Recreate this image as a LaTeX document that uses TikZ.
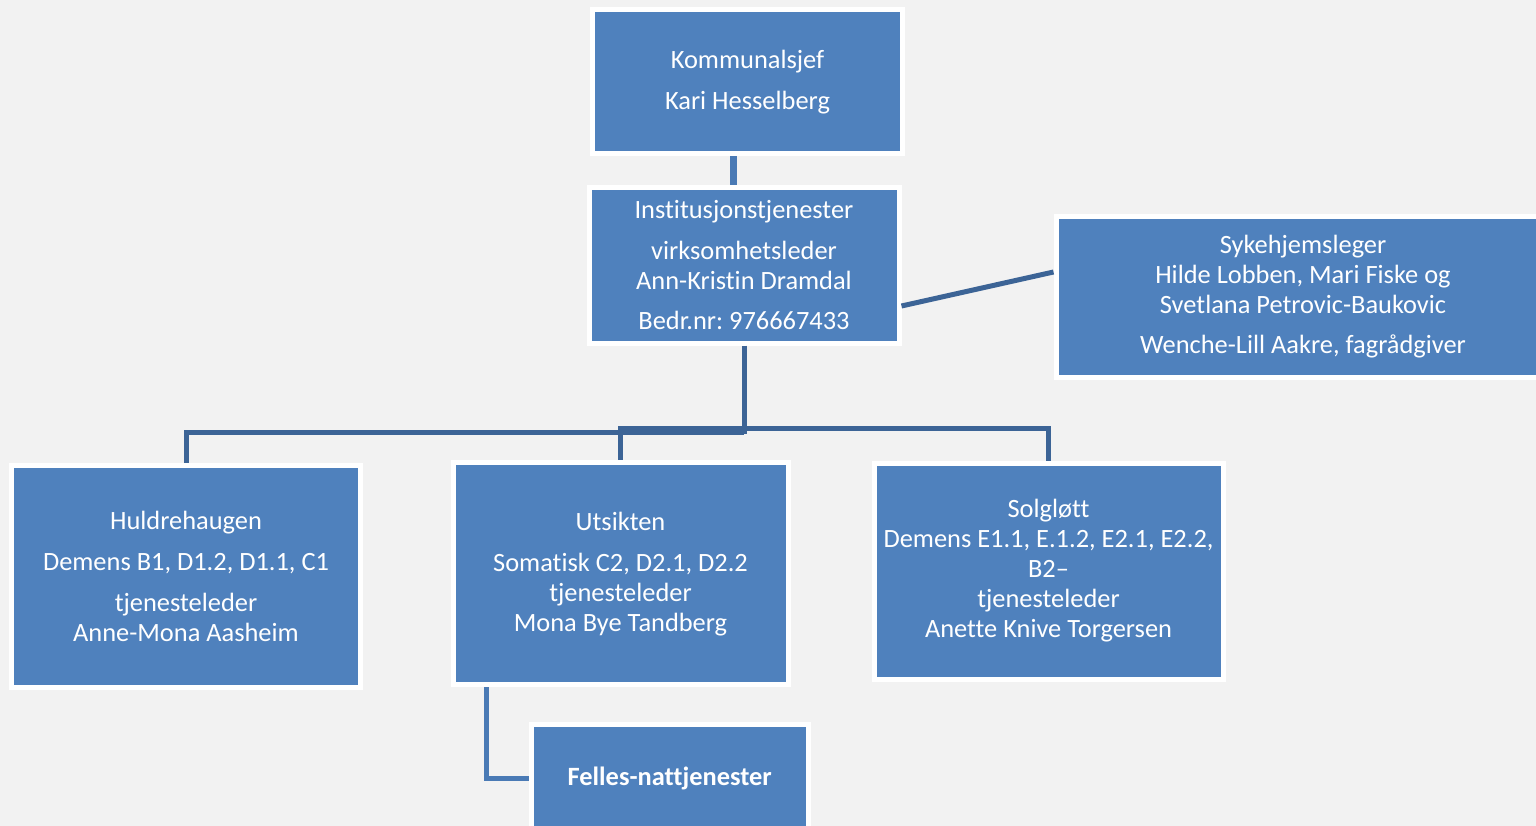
\documentclass[tikz,border=0pt]{standalone}
\usepackage{fontspec}
\setmainfont{Carlito}[Ligatures={NoCommon}]
\frenchspacing
\definecolor{bg}{HTML}{F2F2F2}
\definecolor{boxblue}{HTML}{4F81BD}
\definecolor{darkline}{HTML}{3C6496}
\definecolor{lightline}{HTML}{4A7AB5}
\begin{document}
\begin{tikzpicture}[x=1pt,y=-1pt,
  orgbox/.style={rectangle, fill=boxblue, draw=white, line width=5pt,
    text=white, align=center, inner sep=0pt,
    font=\fontsize{26.4}{30}\selectfont},
  darkconn/.style={draw=darkline, line width=5pt},
  lightconn/.style={draw=lightline, line width=6.5pt}]
\useasboundingbox (0,0) rectangle (1536,826);
\fill[bg] (0,0) rectangle (1536,826);

\node[orgbox, minimum width=310pt, minimum height=144pt] (komm) at (747.5,82)
  {Kommunalsjef\\[11pt]Kari Hesselberg};
\node[orgbox, minimum width=310pt, minimum height=155pt] (inst) at (744,265.5)
  {Institusjonstjenester\\[11pt]virksomhetsleder\\Ann-Kristin Dramdal\\[10pt]Bedr.nr: 976667433};
\node[orgbox, minimum width=494pt, minimum height=161pt] (syk) at (1303,297)
  {Sykehjemsleger\\Hilde Lobben, Mari Fiske og\\Svetlana Petrovic-Baukovic\\[10pt]Wenche-Lill Aakre, fagrådgiver};
\node[orgbox, minimum width=349pt, minimum height=222pt] (huld) at (186,576)
  {Huldrehaugen\\[11pt]Demens B1, D1.2, D1.1, C1\\[11pt]tjenesteleder\\Anne-Mona Aasheim};
\node[orgbox, minimum width=335pt, minimum height=222.5pt] (uts) at (620.5,573.7)
  {Utsikten\\[11pt]Somatisk C2, D2.1, D2.2\\tjenesteleder\\Mona Bye Tandberg};
\node[orgbox, minimum width=349pt, minimum height=216pt] (solg) at (1048.5,571)
  {Solgløtt\\Demens E1.1, E.1.2, E2.1, E2.2,\\B2–\\tjenesteleder\\Anette Knive Torgersen};
\node[orgbox, minimum width=276.5pt, minimum height=108pt, font=\fontsize{26.4}{30}\selectfont\bfseries] (fell) at (669.75,778)
  {Felles-nattjenester};

% connectors
\draw[lightconn] ([xshift=-14pt]komm.south) -- ([xshift=-14pt]komm.south |- inst.north);
\draw[darkconn] ([yshift=-40.5pt]inst.east) -- ([yshift=25pt]syk.west);
\coordinate (busL) at (744,432);
\coordinate (busR) at (744,428.5);
\draw[darkconn] (inst.south) -- (744,434);
\draw[darkconn] (busL) -| (huld.north);
\draw[darkconn] (busR) -| (uts.north);
\draw[darkconn] (busR) -| (solg.north);
\draw[lightconn, line width=5pt] ([xshift=-134pt]uts.south) |- (fell.west);
\end{tikzpicture}
\end{document}
